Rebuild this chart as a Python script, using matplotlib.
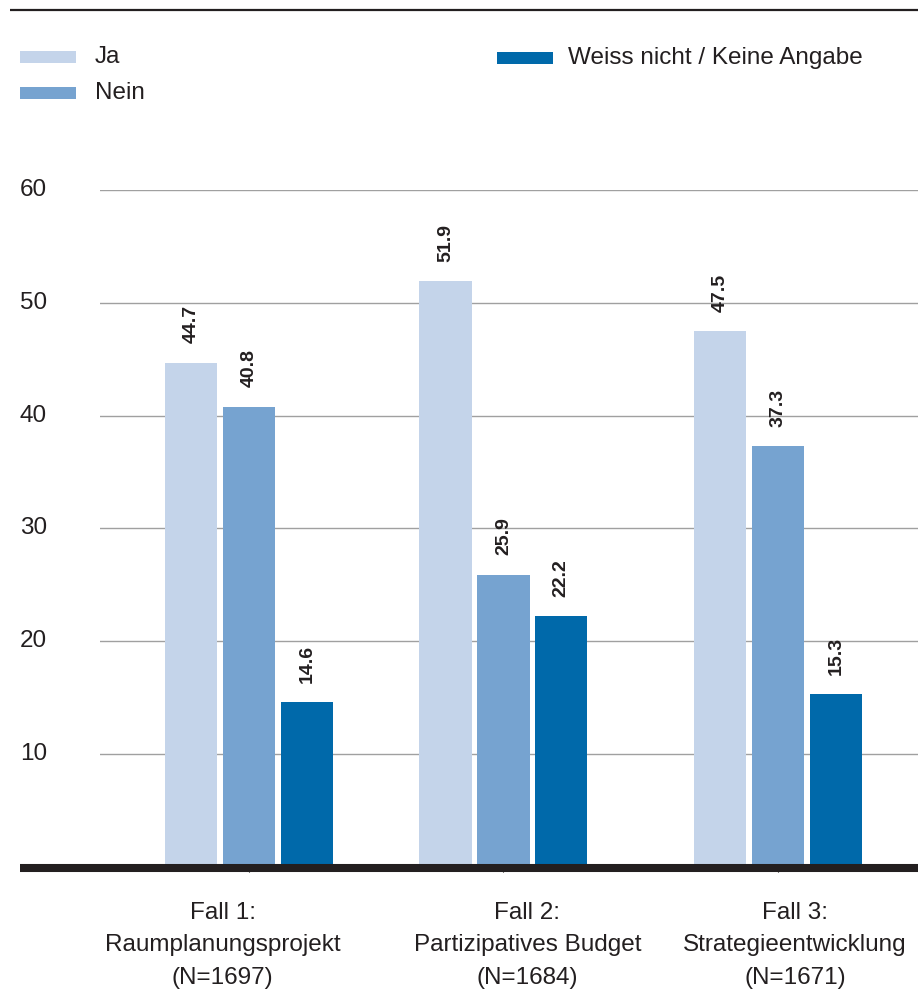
import numpy as np
import matplotlib
matplotlib.use('Agg')
import matplotlib.pyplot as plt
from matplotlib.lines import Line2D
from matplotlib.patches import Rectangle

plt.rcParams['font.family'] = ['Liberation Sans', 'DejaVu Sans']

categories = ['Fall 1:\nRaumplanungsprojekt\n(N=1697)',
              'Fall 2:\nPartizipatives Budget\n(N=1684)',
              'Fall 3:\nStrategieentwicklung\n(N=1671)']
series_names = ['Ja', 'Nein', 'Weiss nicht / Keine Angabe']
ja = [44.7, 51.9, 47.5]
nein = [40.8, 25.9, 37.3]
weiss = [14.6, 22.2, 15.3]
yticks = [10, 20, 30, 40, 50, 60]

colors = ['#c4d4ea', '#76a3d0', '#0069aa']
text_col = '#231f20'

W, H = 918, 991
fig = plt.figure(figsize=(W / 100, H / 100), dpi=100)
ax = fig.add_axes([100 / W, 1 - 866.8 / H, 818 / W, (866.8 - 190) / H])

# group centres (middle group sits a little left in the original layout)
x = np.array([0.0, 0.962, 2.0])
width = 0.197
step = 0.219
for i, (vals, c) in enumerate(zip([ja, nein, weiss], colors)):
    pos = x + (i - 1) * step
    ax.bar(pos, vals, width=width, color=c, zorder=2)
    for xp, v in zip(pos, vals):
        ax.annotate(f'{v:.1f}', (xp, v), xytext=(0, 14), textcoords='offset points',
                    rotation=90, ha='center', va='bottom', fontsize=14,
                    fontweight='bold', color=text_col)

unit = 264.5
ax.set_xlim(-(249 - 100) / unit, (918 - 249) / unit)
ax.set_ylim(0, 60)
ax.set_yticks(yticks)
ax.grid(axis='y', color='#a0a0a0', linewidth=1, zorder=0)
ax.set_axisbelow(True)
ax.tick_params(axis='y', length=0, pad=57.6, labelsize=17.5, labelcolor=text_col)
for lab in ax.get_yticklabels():
    lab.set_ha('left')
    lab.set_va('center')
ax.set_xticks(x)
ax.set_xticklabels([])
for s in ax.spines.values():
    s.set_visible(False)

# category labels
offs = [-0.1, 0.09, 0.065]
for xi, lab, o in zip(x, categories, offs):
    ax.text(xi + o, -3.1, lab, ha='center', va='top', fontsize=17.5,
            color=text_col, linespacing=1.62)

# baseline and top rule
fig.add_artist(Line2D([20 / W, 1], [1 - 868 / H] * 2, color='#231f20',
                      linewidth=5.8, solid_capstyle='butt'))
fig.add_artist(Line2D([10 / W, 1], [1 - 10 / H] * 2, color='#231f20',
                      linewidth=1.6, solid_capstyle='butt'))

# legend
leg = [(20, 57, 0, 75), (20, 93, 1, 75), (497, 58, 2, 71)]
for lx, ly, k, tx in leg:
    fig.add_artist(Rectangle((lx / W, 1 - (ly + 6) / H), 56 / W, 12 / H,
                             facecolor=colors[k], edgecolor='none'))
    fig.text((lx + tx) / W, 1 - ly / H, series_names[k], ha='left', va='center',
             fontsize=17.5, color=text_col)

fig.savefig('out.png', dpi=100)
